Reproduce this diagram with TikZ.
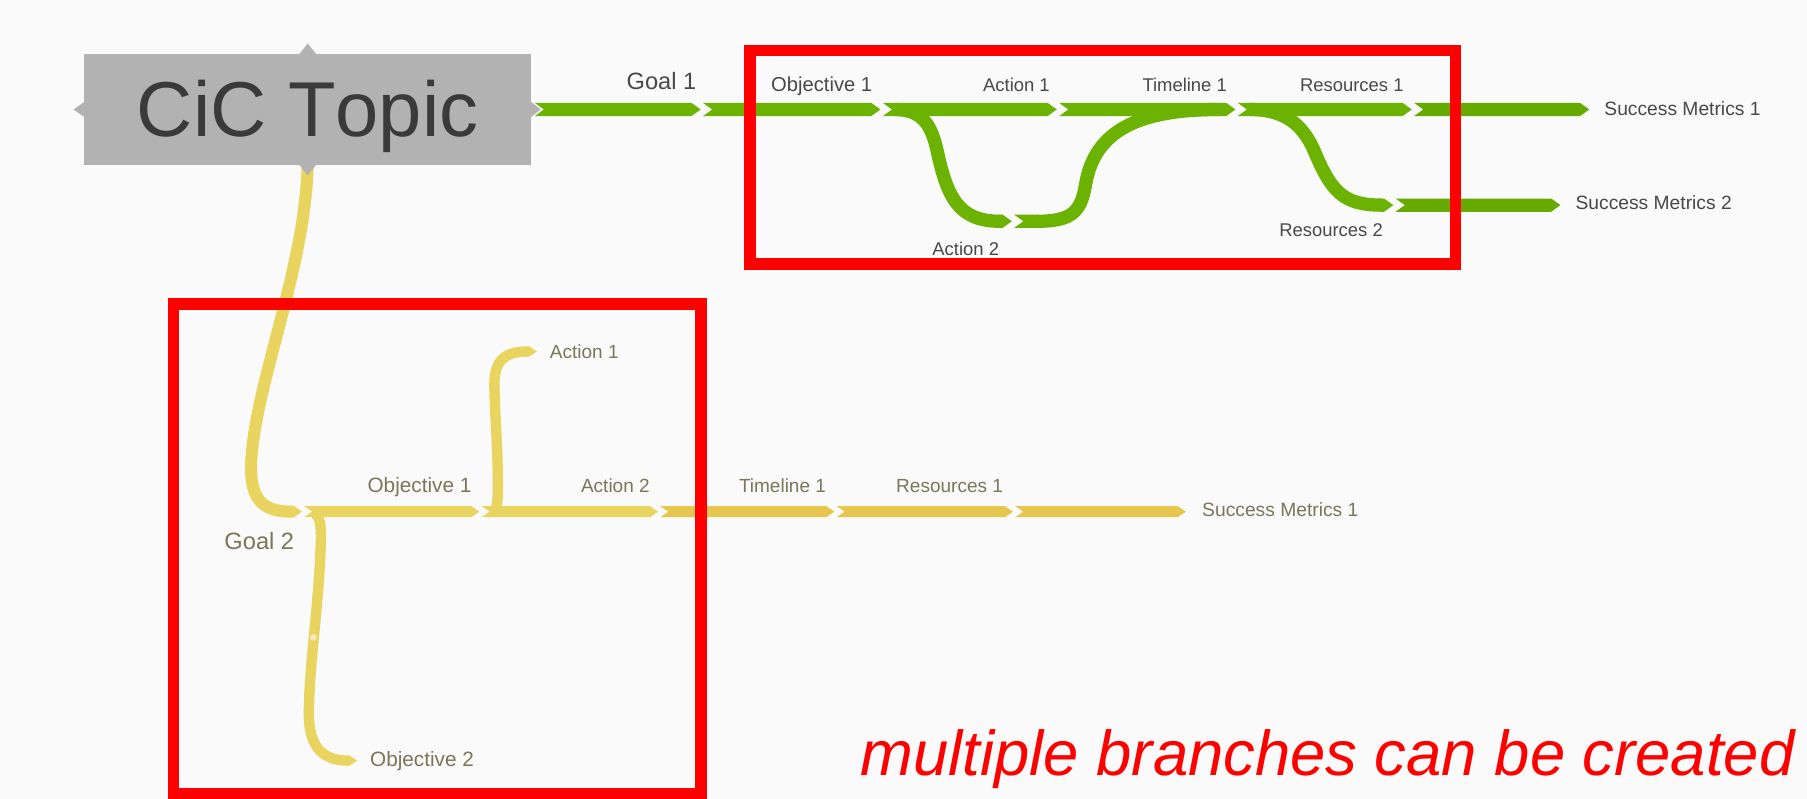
\documentclass[tikz,border=0pt]{standalone}
\usepackage{fontspec}
\setmainfont{Liberation Sans}
\newfontfamily\topicfont[Kerning=Off]{Liberation Sans}
\usetikzlibrary{calc}
\definecolor{bg}{RGB}{250,250,250}
\definecolor{grn}{RGB}{108,178,0}
\definecolor{grnd}{RGB}{102,170,0}
\definecolor{ylw}{RGB}{232,212,94}
\definecolor{ylwd}{RGB}{230,198,76}
\definecolor{ylwlight}{RGB}{243,234,184}
\definecolor{topicgray}{RGB}{178,178,178}
\definecolor{topictext}{RGB}{58,58,58}
\definecolor{glbl}{RGB}{72,72,72}
\definecolor{ylbl}{RGB}{122,118,88}
\definecolor{hlred}{RGB}{255,0,0}
% chevron segment: #1 from, #2 to, #3 colour, #4 notch depth, #5 point length, #6 half width
\newcommand\chevpoly[6]{%
  \fill[#3] let \p1=(#1), \p2=(#2) in
    (\x1+1pt,\y1+#6) -- (\x2-1pt-#5,\y2+#6) -- (\x2-1pt,\y2)
    -- (\x2-1pt-#5,\y2-#6) -- (\x1+1pt,\y1-#6) -- (\x1+1pt+#4,\y1) -- cycle;}
\begin{document}
\begin{tikzpicture}[x=1pt,y=-1pt,
  gcurve/.style={draw=grn, line width=11.5pt},
  ycurve/.style={draw=ylw, line width=10.5pt},
  ysub/.style={draw=ylw, line width=9pt},
  glab/.style={anchor=base, inner sep=0pt, text=glbl, font=\fontsize{16}{18}\selectfont},
  glabbig/.style={glab, font=\fontsize{17.5}{20}\selectfont},
  goallab/.style={anchor=base, inner sep=0pt, font=\fontsize{20.5}{24}\selectfont},
  ylab/.style={anchor=base, inner sep=0pt, text=ylbl, font=\fontsize{16.5}{18}\selectfont},
  ylabbig/.style={ylab, font=\fontsize{18}{20}\selectfont},
  metric/.style={anchor=base west, inner sep=0pt, font=\fontsize{16.7}{18}\selectfont},
  hlbox/.style={draw=hlred, line width=10pt, inner sep=0pt},
  topicbox/.style={fill=topicgray, inner sep=0pt, minimum width=388pt, minimum height=96pt,
    text height=47pt, text depth=0pt, text=topictext, font=\topicfont\fontsize{67.5}{70}\selectfont},
]
\fill[bg] (0,0) rectangle (1568,693);
\useasboundingbox (0,0) rectangle (1568,693);

% ---------- green branch (Goal 1) ----------
\coordinate (g0) at (463,95);
\coordinate (g1) at (609,95);
\coordinate (g2) at (765,95);
\coordinate (g3) at (918,95);
\coordinate (g4) at (1073,95);
\coordinate (g5) at (1226,95);
\coordinate (g6) at (1380,95);
\coordinate (a2s) at (776,95);
\coordinate (a2m) at (868,192);
\coordinate (a2t) at (879,192);
\coordinate (a2u) at (900,192);
\coordinate (a2e) at (1058,95);
\coordinate (r2s) at (1084,95);
\coordinate (r2m) at (1199,178);
\coordinate (r2t) at (1210,178);
\coordinate (r2e) at (1355,178);

\draw[gcurve] (a2s) .. controls (800,95) and (808,108) .. (813,130)
  .. controls (822,172) and (832,192) .. (a2m);
\draw[gcurve] (a2u) .. controls (930,192) and (938,184) .. (942,160)
  .. controls (950,112) and (990,95) .. (a2e);
\draw[gcurve] (r2s) .. controls (1115,95) and (1130,108) .. (1140,130)
  .. controls (1155,166) and (1165,178) .. (r2m);

\chevpoly{g0}{g1}{grn}{8pt}{8pt}{5.75pt}
\chevpoly{g1}{g2}{grn}{8pt}{8pt}{5.75pt}
\chevpoly{g2}{g3}{grn}{8pt}{8pt}{5.75pt}
\chevpoly{g3}{g4}{grn}{8pt}{8pt}{5.75pt}
\chevpoly{g4}{g5}{grn}{8pt}{8pt}{5.75pt}
\chevpoly{g5}{g6}{grnd}{8pt}{8pt}{5.75pt}
\chevpoly{[xshift=-2pt]a2m}{a2t}{grn}{0pt}{8pt}{5.75pt}
\chevpoly{a2t}{[xshift=2pt]a2u}{grn}{8pt}{0pt}{5.75pt}
\chevpoly{[xshift=-2pt]r2m}{r2t}{grn}{0pt}{8pt}{5.75pt}
\chevpoly{r2t}{r2e}{grnd}{8pt}{8pt}{5.75pt}

% ---------- yellow branch (Goal 2) ----------
\coordinate (y0) at (263,444);
\coordinate (y1) at (417,444);
\coordinate (y2) at (572,444);
\coordinate (y3) at (725,444);
\coordinate (y4) at (880,444);
\coordinate (y5) at (1030,444);
\coordinate (gm2) at (254,444);
\coordinate (ya1s) at (426,444);
\coordinate (ya1m) at (458,305);
\coordinate (ya1t) at (467,305);
\coordinate (yo2s) at (273,446);
\coordinate (yo2m) at (302,660);
\coordinate (yo2t) at (311,660);

\draw[ycurve] (267,140) .. controls (266,230) and (222,330) .. (218,400)
  .. controls (216,438) and (232,444) .. (gm2);
\draw[ysub] (ya1s) .. controls (431,444) and (432,438) .. (432,422)
  .. controls (432,385) and (429,355) .. (429,333)
  .. controls (429,313) and (438,305) .. (ya1m);
\draw[ysub] (yo2s) .. controls (279,448) and (279,462) .. (278,480)
  .. controls (276,530) and (268,580) .. (268,620)
  .. controls (268,650) and (282,660) .. (yo2m);
\fill[ylwlight] (272,553) circle (3pt);

\chevpoly{[xshift=-2pt]gm2}{y0}{ylw}{0pt}{7pt}{5pt}
\chevpoly{y0}{y1}{ylw}{7pt}{7pt}{4.75pt}
\chevpoly{y1}{y2}{ylw}{7pt}{7pt}{4.75pt}
\chevpoly{y2}{y3}{ylwd}{7pt}{7pt}{4.75pt}
\chevpoly{y3}{y4}{ylwd}{7pt}{7pt}{4.75pt}
\chevpoly{y4}{y5}{ylwd}{7pt}{7pt}{4.75pt}
\chevpoly{[xshift=-2pt]ya1m}{ya1t}{ylw}{0pt}{7pt}{4.5pt}
\chevpoly{[xshift=-2pt]yo2m}{yo2t}{ylw}{0pt}{7pt}{4.5pt}

% ---------- topic ----------
\node[topicbox] (topic) at (267,95) {CiC Topic};
\fill[topicgray] ([xshift=-8pt,yshift=-1pt]topic.north) -- ([yshift=9pt]topic.north) -- ([xshift=8pt,yshift=-1pt]topic.north) -- cycle;
\fill[topicgray] ([xshift=-8pt,yshift=1pt]topic.south) -- ([yshift=-9pt]topic.south) -- ([xshift=8pt,yshift=1pt]topic.south) -- cycle;
\fill[topicgray] ([yshift=7pt,xshift=1pt]topic.west) -- ([xshift=-9pt]topic.west) -- ([yshift=-7pt,xshift=1pt]topic.west) -- cycle;
\fill[topicgray] ([yshift=7pt,xshift=-1pt]topic.east) -- ([xshift=8pt]topic.east) -- ([yshift=-7pt,xshift=-1pt]topic.east) -- cycle;

% ---------- green labels ----------
\node[goallab, text=glbl] (lg1) at (574,78) {Goal 1};
\node[glabbig] (lgo1) at (713,79) {Objective 1};
\node[glab] (lga1) at (882,79) {Action 1};
\node[glab] (lgt1) at (1028,79) {Timeline 1};
\node[glab] (lgr1) at (1173,79) {Resources 1};
\node[glab] (lga2) at (838,222) {Action 2};
\node[glab] (lgr2) at (1155,205) {Resources 2};
\node[metric, text=glbl] (lgs1) at (1392,100) {Success Metrics 1};
\node[metric, text=glbl] (lgs2) at (1367,182) {Success Metrics 2};

% ---------- yellow labels ----------
\node[goallab, text=ylbl] (lg2) at (225,477) {Goal 2};
\node[ylabbig] (lyo1) at (364,427) {Objective 1};
\node[ylab] (lya2) at (534,427) {Action 2};
\node[ylab] (lyt1) at (679,427) {Timeline 1};
\node[ylab] (lyr1) at (824,427) {Resources 1};
\node[ylab] (lya1) at (507,311) {Action 1};
\node[metric, text=ylbl] (lys1) at (1043,448) {Success Metrics 1};
\node[anchor=base west, inner sep=0pt, text=ylbl, font=\fontsize{18}{20}\selectfont] (lyo2) at (321,665) {Objective 2};

% ---------- highlight boxes ----------
\node[hlbox, minimum width=612pt, minimum height=185pt] (hl1) at (957,136.5) {};
\node[hlbox, minimum width=458pt, minimum height=425pt] (hl2) at (379.5,476.5) {};
\node[anchor=base, inner sep=0pt, text=hlred, font=\fontsize{55}{60}\selectfont\itshape] (cap) at (1152,673) {multiple branches can be created};
\end{tikzpicture}
\end{document}
